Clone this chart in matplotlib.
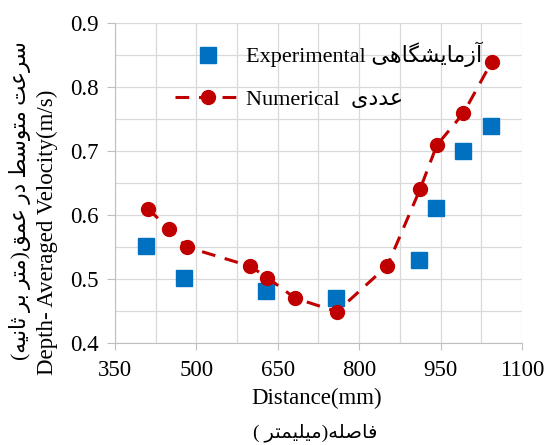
import matplotlib
matplotlib.use('Agg')
import matplotlib.pyplot as plt
from matplotlib.ticker import MultipleLocator

plt.rcParams['font.family'] = ['Liberation Serif', 'DejaVu Sans']

# data
exp_x = [408, 477, 628, 757, 911, 942, 991, 1042]
exp_y = [0.552, 0.501, 0.482, 0.471, 0.530, 0.611, 0.700, 0.739]
num_x = [411, 449, 482, 599, 631, 682, 759, 852, 912, 943, 992, 1044]
num_y = [0.610, 0.578, 0.550, 0.520, 0.502, 0.470, 0.449, 0.521, 0.640, 0.709, 0.759, 0.839]

exp_label_fa = 'آزمایشگاهی'
num_label_fa = 'عددی'
ylabel_fa = 'سرعت متوسط در عمق(متر بر ثانیه)'
xlabel_fa = 'فاصله(میلیمتر )'

# matplotlib has no arabic shaping, so pick presentation forms by hand
# (iso, final) for right-joining letters, (iso, final, initial, medial) for dual
FORMS = {
    'ا': ('\uFE8D', '\uFE8E'), 'آ': ('\uFE81', '\uFE82'),
    'د': ('\uFEA9', '\uFEAA'), 'ر': ('\uFEAD', '\uFEAE'),
    'ز': ('\uFEAF', '\uFEB0'), 'و': ('\uFEED', '\uFEEE'),
    'ب': ('\uFE8F', '\uFE90', '\uFE91', '\uFE92'),
    'ت': ('\uFE95', '\uFE96', '\uFE97', '\uFE98'),
    'ث': ('\uFE99', '\uFE9A', '\uFE9B', '\uFE9C'),
    'س': ('\uFEB1', '\uFEB2', '\uFEB3', '\uFEB4'),
    'ش': ('\uFEB5', '\uFEB6', '\uFEB7', '\uFEB8'),
    'ص': ('\uFEB9', '\uFEBA', '\uFEBB', '\uFEBC'),
    'ط': ('\uFEC1', '\uFEC2', '\uFEC3', '\uFEC4'),
    'ع': ('\uFEC9', '\uFECA', '\uFECB', '\uFECC'),
    'ف': ('\uFED1', '\uFED2', '\uFED3', '\uFED4'),
    'ق': ('\uFED5', '\uFED6', '\uFED7', '\uFED8'),
    'ل': ('\uFEDD', '\uFEDE', '\uFEDF', '\uFEE0'),
    'م': ('\uFEE1', '\uFEE2', '\uFEE3', '\uFEE4'),
    'ن': ('\uFEE5', '\uFEE6', '\uFEE7', '\uFEE8'),
    'ه': ('\uFEE9', '\uFEEA', '\uFEEB', '\uFEEC'),
    'ی': ('\uFBFC', '\uFBFD', '\uFBFE', '\uFBFF'),
    'گ': ('\uFB92', '\uFB93', '\uFB94', '\uFB95'),
}
MIRROR = {'(': ')', ')': '('}


def shape(text):
    out = []
    for i, ch in enumerate(text):
        f = FORMS.get(ch)
        if f is None:
            out.append(MIRROR.get(ch, ch))
            continue
        prev = FORMS.get(text[i - 1]) if i > 0 else None
        nxt = FORMS.get(text[i + 1]) if i + 1 < len(text) else None
        join_prev = prev is not None and len(prev) == 4
        join_next = len(f) == 4 and nxt is not None
        if join_prev and join_next:
            out.append(f[3])
        elif join_prev:
            out.append(f[1])
        elif join_next:
            out.append(f[2])
        else:
            out.append(f[0])
    return ''.join(reversed(out))  # visual order, left to right


blue = '#0070C0'
red = '#C00000'
grid_c = '#D9D9D9'

fig = plt.figure(figsize=(5.48, 4.45), dpi=100)
ax = fig.add_axes([115 / 548, 1 - 343 / 445, (522 - 115) / 548, (343 - 23) / 445])

ax.plot(exp_x, exp_y, ls='none', marker='s', ms=11, color=blue,
        label='Experimental ' + shape(exp_label_fa))
ax.plot(num_x, num_y, ls=(0, (4.5, 3.2)), lw=2.2, marker='o', ms=10, color=red,
        label='Numerical  ' + shape(num_label_fa))

ax.set_xlim(350, 1100)
ax.set_ylim(0.4, 0.9)
ax.xaxis.set_major_locator(MultipleLocator(150, offset=50))
ax.xaxis.set_minor_locator(MultipleLocator(75, offset=50))
ax.yaxis.set_major_locator(MultipleLocator(0.1))
ax.yaxis.set_minor_locator(MultipleLocator(0.05))
ax.yaxis.set_major_formatter(plt.FuncFormatter(lambda v, p: f'{v:.1f}'))
ax.grid(True, which='both', color=grid_c, lw=0.9)
ax.set_axisbelow(True)
for s in ['top', 'right']:
    ax.spines[s].set_visible(False)
for s in ['left', 'bottom']:
    ax.spines[s].set_color('#BFBFBF')
ax.tick_params(which='major', color='#BFBFBF', labelsize=16.5)
ax.tick_params(axis='x', which='major', length=5, pad=7)
ax.tick_params(axis='y', which='major', length=6, pad=6)
ax.tick_params(which='minor', length=0)

leg = ax.legend(loc='upper left', bbox_to_anchor=(175 / 548, 1 - 42 / 445),
                bbox_transform=fig.transFigure, frameon=False, fontsize=16,
                handlelength=3.0, handletextpad=0.2, labelspacing=1.0,
                borderpad=0, borderaxespad=0, numpoints=1)

fig.text(47 / 548, 1 - 232 / 445, 'Depth- Averaged Velocity(m/s)', rotation=90,
         ha='center', va='center', fontsize=16.5)
fig.text(20 / 548, 1 - 201 / 445, shape(ylabel_fa), rotation=90,
         ha='center', va='center', fontsize=15.5)
fig.text(317 / 548, 1 - 398 / 445, 'Distance(mm)', ha='center', va='center',
         fontsize=16.5)
fig.text(315 / 548, 1 - 433 / 445, shape(xlabel_fa), ha='center', va='center',
         fontsize=14)

fig.savefig('out.png', dpi=100)
